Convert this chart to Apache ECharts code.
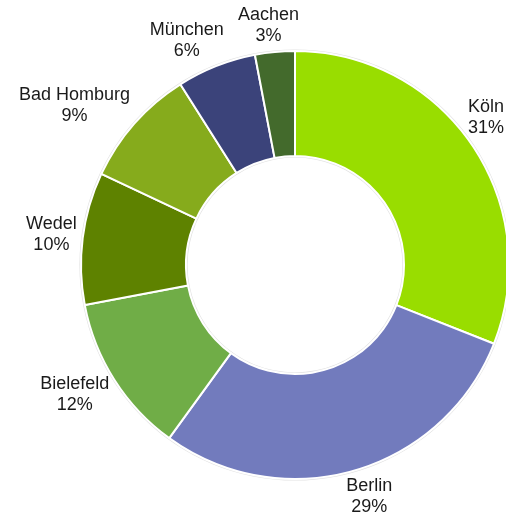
<!DOCTYPE html>
<html>
<head>
<meta charset="utf-8">
<script src="https://cdn.jsdelivr.net/npm/echarts@6/dist/echarts.min.js"></script>
<style>
  html, body { margin: 0; padding: 0; background: #fff; }
  #chart { width: 506px; height: 521px; }
</style>
</head>
<body>
<div id="chart"></div>
<script>
// ---- data ----
const cities = ['Köln', 'Berlin', 'Bielefeld', 'Wedel', 'Bad Homburg', 'München', 'Aachen'];
const shares = [31, 29, 12, 10, 9, 6, 3];
const colors = ['#99DD00', '#727BBD', '#70AD47', '#5E8200', '#86AB1C', '#3B437A', '#436A2C'];

// ---- layout ----
const W = 506, H = 521;
const CX = 295, CY = 265, R_OUT = 214, R_IN = 109;
const GAP = 6;

const total = shares.reduce((a, b) => a + b, 0);
const midAngles = [];
{
  let acc = 0;
  shares.forEach(v => {
    midAngles.push(((acc + v / 2) / total) * Math.PI * 2);
    acc += v;
  });
}
const clamp = (v, lo, hi) => Math.max(lo, Math.min(hi, v));

const chart = echarts.init(document.getElementById('chart'), null, { renderer: 'canvas' });
chart.setOption({
  backgroundColor: '#fff',
  animation: false,
  series: [{
    // faint outline around the ring
    type: 'pie',
    silent: true,
    center: [CX, CY],
    radius: [R_IN - 1.6, R_OUT + 1.6],
    label: { show: false },
    labelLine: { show: false },
    itemStyle: { color: '#e2e2e2' },
    data: [{ name: 'outline', value: 1 }],
    z: 1
  }, {
    type: 'pie',
    center: [CX, CY],
    radius: [R_IN, R_OUT],
    startAngle: 90,
    clockwise: true,
    avoidLabelOverlap: false,
    z: 2,
    data: cities.map((c, i) => ({ name: c, value: shares[i], itemStyle: { color: colors[i] } })),
    itemStyle: { borderColor: '#ffffff', borderWidth: 2 },
    label: {
      show: true,
      position: 'outside',
      formatter: '{b}\n{d}%',
      fontFamily: '"Liberation Sans", Arial, sans-serif',
      fontSize: 18,
      lineHeight: 21,
      color: '#1a1a1a',
      align: 'center'
    },
    labelLine: { show: false },
    emphasis: { disabled: true },
    labelLayout: function (p) {
      const a = midAngles[p.dataIndex];
      const sx = Math.sin(a), sy = -Math.cos(a);
      const w = p.labelRect.width / 2, h = p.labelRect.height / 2;
      const px = CX + (R_OUT + GAP) * sx, py = CY + (R_OUT + GAP) * sy;
      let x = px + w * clamp(2 * sx, -1, 1);
      let y = py + h * sy;
      const dist = Math.hypot(x - CX, y - CY);
      const xMax = W - w - 2, xMin = w + 2;
      if (x > xMax || x < xMin) {
        x = clamp(x, xMin, xMax);
        const dy = Math.sqrt(Math.max(0, dist * dist - (x - CX) * (x - CX)));
        y = CY + (y < CY ? -dy : dy);
      }
      y = clamp(y, h, H - h);
      return { x: x, y: y, align: 'center', verticalAlign: 'middle' };
    }
  }]
});
</script>
</body>
</html>
